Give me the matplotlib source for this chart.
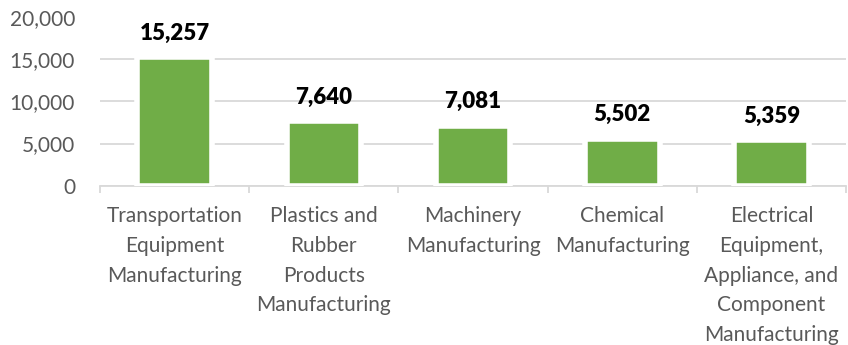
import matplotlib.pyplot as plt
from matplotlib.ticker import FuncFormatter, FixedLocator

# industries and their counts
categories = [
    "Transportation\nEquipment\nManufacturing",
    "Plastics and\nRubber\nProducts\nManufacturing",
    "Machinery\nManufacturing",
    "Chemical\nManufacturing",
    "Electrical\nEquipment,\nAppliance, and\nComponent\nManufacturing",
]
values = [15257, 7640, 7081, 5502, 5359]
y_ticks = [0, 5000, 10000, 15000, 20000]

bar_color = "#70AD47"
grid_color = "#D9D9D9"
text_gray = "#595959"

plt.rcParams["font.family"] = ["Lato", "DejaVu Sans"]

fig = plt.figure(figsize=(8.48, 3.45), dpi=100)
ax = fig.add_axes([100 / 848, 159.5 / 345, 746 / 848, 168 / 345])

x = range(len(values))
ax.bar(x, values, width=0.5, color=bar_color, edgecolor="white",
       linewidth=4, zorder=3)

for xi, v in zip(x, values):
    ax.annotate(f"{v:,}", (xi, v), xytext=(0, 10), textcoords="offset points",
                ha="center", va="bottom", fontsize=16, fontweight="heavy",
                color="black")

ax.set_xlim(-0.5, len(values) - 0.5)
ax.set_ylim(0, 20000)
ax.set_yticks(y_ticks)
ax.yaxis.set_major_formatter(FuncFormatter(lambda v, p: f"{int(v):,}"))
ax.grid(axis="y", color=grid_color, linewidth=1.3, zorder=0)
ax.set_axisbelow(True)

ax.set_xticks(list(x))
ax.set_xticklabels(categories, linespacing=1.6)
ax.xaxis.set_minor_locator(FixedLocator([i - 0.5 for i in range(len(values) + 1)]))
ax.tick_params(axis="x", which="major", length=0, pad=15, labelsize=15,
               labelcolor=text_gray)
ax.tick_params(axis="x", which="minor", length=5, width=1.3, color=grid_color)
ax.tick_params(axis="y", length=0, pad=18, labelsize=15, labelcolor=text_gray)

for side in ["top", "right", "left"]:
    ax.spines[side].set_visible(False)
ax.spines["bottom"].set_color(grid_color)
ax.spines["bottom"].set_linewidth(1.3)

fig.savefig("out.png", dpi=100)
